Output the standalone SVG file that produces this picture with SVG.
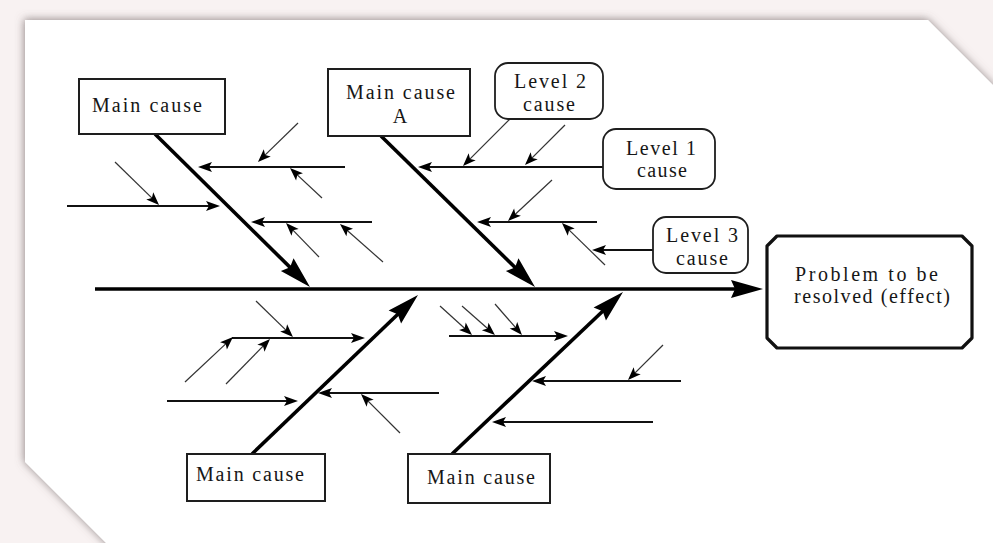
<svg xmlns="http://www.w3.org/2000/svg" width="993" height="543" viewBox="0 0 993 543">
<defs>
<style>
.box{fill:#fff;stroke:#1e1e1e;stroke-width:2}
.lvl{fill:#fff;stroke:#1e1e1e;stroke-width:1.8}
.eff{fill:#fff;stroke:#111;stroke-width:3.2;stroke-linejoin:round}
.t{font-family:"Liberation Serif","Times New Roman",serif;font-size:20px;fill:#161616}
.bone{stroke:#000;stroke-width:3.6;fill:none;marker-end:url(#big)}
.rib{stroke:#111;stroke-width:1.8;fill:none;marker-end:url(#sm)}
.sub{stroke:#333;stroke-width:1.2;fill:none;marker-end:url(#tn)}
</style>
<filter id="sh" x="-5%" y="-5%" width="110%" height="110%">
<feDropShadow dx="-1" dy="-1" stdDeviation="4" flood-color="#6e6464" flood-opacity="0.7"/>
</filter>
<marker id="big" markerUnits="userSpaceOnUse" viewBox="-26 -11 36 22" refX="0" refY="0" markerWidth="36" markerHeight="22" orient="auto">
<path d="M8,0 L-24,-9 L-20,0 L-24,9 Z" fill="#000"/>
</marker>
<marker id="sm" markerUnits="userSpaceOnUse" viewBox="-12 -6 18 12" refX="0" refY="0" markerWidth="18" markerHeight="12" orient="auto">
<path d="M4,0 L-10,-5 L-7,0 L-10,5 Z" fill="#000"/>
</marker>
<marker id="tn" markerUnits="userSpaceOnUse" viewBox="-12 -6 18 12" refX="0" refY="0" markerWidth="18" markerHeight="12" orient="auto">
<path d="M3,0 L-10,-5 L-7,0 L-10,5 Z" fill="#000"/>
</marker>
</defs>
<rect x="0" y="0" width="993" height="543" fill="#f8f2f2"/>
<path d="M25,20 L928,20 L1003,95 L1003,553 L116,553 L25,462 Z" fill="#fff" filter="url(#sh)"/>
<g id="connectors">
<path class="bone" d="M95,289 L755,289"/>
<path class="bone" d="M155,134 L304.3,281.4"/>
<path class="bone" d="M381,136 L529.3,281.4"/>
<path class="bone" d="M252,454 L412.2,300.5"/>
<path class="bone" d="M452,454 L617.2,297.5"/>
<path class="rib" d="M345,167 L202,167"/>
<path class="sub" d="M298,123 L260.1,159.9"/>
<path class="sub" d="M322,198 L292.2,170.1"/>
<path class="rib" d="M67,206 L216,206"/>
<path class="sub" d="M115,162 L156.9,202.9"/>
<path class="rib" d="M372,222 L255,222"/>
<path class="sub" d="M319,257 L288.1,225.2"/>
<path class="sub" d="M383,262 L342.2,226"/>
<path class="rib" d="M603,167 L422,167"/>
<path class="sub" d="M510,119 L465.1,163.9"/>
<path class="sub" d="M565,125 L527.1,162.9"/>
<path class="rib" d="M597,222 L481,222"/>
<path class="sub" d="M552,180 L510.2,219"/>
<path class="sub" d="M605,265 L564.1,225.1"/>
<path class="rib" d="M653,250 L596,250"/>
<path class="rib" d="M232,338 L361,338"/>
<path class="sub" d="M256,301 L290.8,334.9"/>
<path class="sub" d="M185,382 L230.8,339.1"/>
<path class="sub" d="M226,384 L267.9,341.1"/>
<path class="rib" d="M167,401 L294,401"/>
<path class="rib" d="M439,393 L322,393"/>
<path class="sub" d="M400,433 L363.1,396.1"/>
<path class="rib" d="M449,336 L564,336"/>
<path class="sub" d="M440,306 L469.8,333"/>
<path class="sub" d="M462,306 L492.7,333"/>
<path class="sub" d="M495,304 L520,332.7"/>
<path class="rib" d="M681,381 L536,381"/>
<path class="sub" d="M663,345 L630.1,377.9"/>
<path class="rib" d="M653,422 L496,422"/>
</g>
<g id="main-cause-top-left">
<rect class="box" x="79" y="79" width="146" height="55"/>
<text class="t" x="92" y="112" textLength="110" lengthAdjust="spacing">Main cause</text>
</g>
<g id="main-cause-a">
<rect class="box" x="328" y="69" width="142" height="67"/>
<text class="t" x="346" y="99" textLength="109" lengthAdjust="spacing">Main cause</text>
<text class="t" x="400" y="123" text-anchor="middle">A</text>
</g>
<g id="level-2-cause">
<rect class="lvl" x="495" y="63" width="108" height="56" rx="13"/>
<text class="t" x="514" y="88" textLength="72" lengthAdjust="spacing">Level 2</text>
<text class="t" x="523" y="111" textLength="52" lengthAdjust="spacing">cause</text>
</g>
<g id="level-1-cause">
<rect class="lvl" x="603" y="129" width="112" height="60" rx="13"/>
<text class="t" x="626" y="155" textLength="70" lengthAdjust="spacing">Level 1</text>
<text class="t" x="637" y="177" textLength="50" lengthAdjust="spacing">cause</text>
</g>
<g id="level-3-cause">
<rect class="lvl" x="653" y="217" width="95" height="56" rx="13"/>
<text class="t" x="666" y="242" textLength="72" lengthAdjust="spacing">Level 3</text>
<text class="t" x="676" y="265" textLength="52" lengthAdjust="spacing">cause</text>
</g>
<g id="effect">
<path class="eff" d="M777,236 L962,236 L972,246 L972,338 L962,348 L777,348 L767,338 L767,246 Z"/>
<text class="t" x="795" y="281" textLength="143" lengthAdjust="spacing">Problem to be</text>
<text class="t" x="794" y="303" textLength="156" lengthAdjust="spacing">resolved (effect)</text>
</g>
<g id="main-cause-bottom-left">
<rect class="box" x="187" y="454" width="138" height="47"/>
<text class="t" x="196" y="481" textLength="108" lengthAdjust="spacing">Main cause</text>
</g>
<g id="main-cause-bottom-right">
<rect class="box" x="408" y="454" width="142" height="49"/>
<text class="t" x="427" y="484" textLength="108" lengthAdjust="spacing">Main cause</text>
</g>
</svg>
